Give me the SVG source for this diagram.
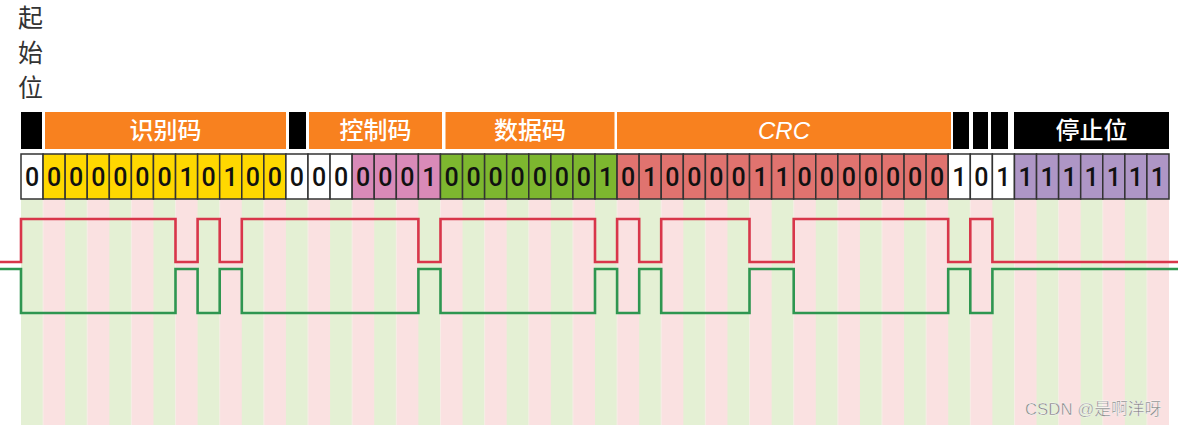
<svg xmlns="http://www.w3.org/2000/svg" width="1178" height="425" viewBox="0 0 1178 425">
<style>
.cjk{font-family:"Noto Sans CJK SC","Noto Sans",sans-serif}
.hdr{font-size:24px;fill:#fff;text-anchor:middle;font-weight:500}
.bit{font-family:Roboto,"Liberation Sans",Arial,sans-serif;font-size:25px;font-weight:500;fill:#111;text-anchor:middle}
.cell{stroke:#333;stroke-width:1.5}
.w{fill:#fff}.y{fill:#FFD800}.p{fill:#D98AB8}.g{fill:#7DB72F}.r{fill:#E0736F}.v{fill:#AE96C6}
.org{fill:#F8811F}.blk{fill:#000}
.wave{fill:none;stroke-width:2.6;stroke-linejoin:miter}
</style>
<defs>
<pattern id="stripes" patternUnits="userSpaceOnUse" x="21" y="0" width="44.1538" height="425">
<rect x="0" y="0" width="22.0769" height="425" fill="#E4F0D4"/>
<rect x="22.0769" y="0" width="22.0769" height="425" fill="#FAE1E1"/>
</pattern>
</defs>
<rect x="0" y="0" width="1178" height="425" fill="#fff"/>
<g id="background">
<rect x="21" y="199" width="1148" height="226" fill="url(#stripes)"/>
</g>
<g id="label-sof" class="cjk" font-size="25" fill="#333">
<text x="18" y="27">起</text>
<text x="18" y="62">始</text>
<text x="18" y="97">位</text>
</g>
<g id="header">
<g id="h-sof"><rect class="blk" x="21" y="112" width="21" height="37"/></g>
<g id="h-id"><rect class="org" x="45" y="112" width="241" height="37"/><text class="cjk hdr" x="165.5" y="139">识别码</text></g>
<g id="h-rtr"><rect class="blk" x="289" y="112" width="17" height="37"/></g>
<g id="h-ctrl"><rect class="org" x="309" y="112" width="133" height="37"/><text class="cjk hdr" x="375.5" y="139">控制码</text></g>
<g id="h-data"><rect class="org" x="445.5" y="112" width="169" height="37"/><text class="cjk hdr" x="530" y="139">数据码</text></g>
<g id="h-crc"><rect class="org" x="617" y="112" width="334" height="37"/><text class="hdr" x="784" y="139" font-family="Liberation Sans,Arial,sans-serif" font-style="italic" font-weight="400">CRC</text></g>
<g id="h-d1"><rect class="blk" x="953" y="112" width="16" height="37"/></g>
<g id="h-d2"><rect class="blk" x="973" y="112" width="15" height="37"/></g>
<g id="h-d3"><rect class="blk" x="991" y="112" width="17" height="37"/></g>
<g id="h-eof"><rect class="blk" x="1014" y="112" width="155" height="37"/><text class="cjk hdr" x="1091.5" y="139">停止位</text></g>
</g>
<g id="bits">
<g class="cell">
<rect class="w" x="21" y="154" width="22.08" height="45"/>
<rect class="y" x="43.08" y="154" width="22.08" height="45"/>
<rect class="y" x="65.15" y="154" width="22.08" height="45"/>
<rect class="y" x="87.23" y="154" width="22.08" height="45"/>
<rect class="y" x="109.31" y="154" width="22.08" height="45"/>
<rect class="y" x="131.38" y="154" width="22.08" height="45"/>
<rect class="y" x="153.46" y="154" width="22.08" height="45"/>
<rect class="y" x="175.54" y="154" width="22.08" height="45"/>
<rect class="y" x="197.62" y="154" width="22.08" height="45"/>
<rect class="y" x="219.69" y="154" width="22.08" height="45"/>
<rect class="y" x="241.77" y="154" width="22.08" height="45"/>
<rect class="y" x="263.85" y="154" width="22.08" height="45"/>
<rect class="w" x="285.92" y="154" width="22.08" height="45"/>
<rect class="w" x="308" y="154" width="22.08" height="45"/>
<rect class="w" x="330.08" y="154" width="22.08" height="45"/>
<rect class="p" x="352.15" y="154" width="22.08" height="45"/>
<rect class="p" x="374.23" y="154" width="22.08" height="45"/>
<rect class="p" x="396.31" y="154" width="22.08" height="45"/>
<rect class="p" x="418.38" y="154" width="22.08" height="45"/>
<rect class="g" x="440.46" y="154" width="22.08" height="45"/>
<rect class="g" x="462.54" y="154" width="22.08" height="45"/>
<rect class="g" x="484.62" y="154" width="22.08" height="45"/>
<rect class="g" x="506.69" y="154" width="22.08" height="45"/>
<rect class="g" x="528.77" y="154" width="22.08" height="45"/>
<rect class="g" x="550.85" y="154" width="22.08" height="45"/>
<rect class="g" x="572.92" y="154" width="22.08" height="45"/>
<rect class="g" x="595" y="154" width="22.08" height="45"/>
<rect class="r" x="617.08" y="154" width="22.08" height="45"/>
<rect class="r" x="639.15" y="154" width="22.08" height="45"/>
<rect class="r" x="661.23" y="154" width="22.08" height="45"/>
<rect class="r" x="683.31" y="154" width="22.08" height="45"/>
<rect class="r" x="705.38" y="154" width="22.08" height="45"/>
<rect class="r" x="727.46" y="154" width="22.08" height="45"/>
<rect class="r" x="749.54" y="154" width="22.08" height="45"/>
<rect class="r" x="771.62" y="154" width="22.08" height="45"/>
<rect class="r" x="793.69" y="154" width="22.08" height="45"/>
<rect class="r" x="815.77" y="154" width="22.08" height="45"/>
<rect class="r" x="837.85" y="154" width="22.08" height="45"/>
<rect class="r" x="859.92" y="154" width="22.08" height="45"/>
<rect class="r" x="882" y="154" width="22.08" height="45"/>
<rect class="r" x="904.08" y="154" width="22.08" height="45"/>
<rect class="r" x="926.15" y="154" width="22.08" height="45"/>
<rect class="w" x="948.23" y="154" width="22.08" height="45"/>
<rect class="w" x="970.31" y="154" width="22.08" height="45"/>
<rect class="w" x="992.38" y="154" width="22.08" height="45"/>
<rect class="v" x="1014.46" y="154" width="22.08" height="45"/>
<rect class="v" x="1036.54" y="154" width="22.08" height="45"/>
<rect class="v" x="1058.62" y="154" width="22.08" height="45"/>
<rect class="v" x="1080.69" y="154" width="22.08" height="45"/>
<rect class="v" x="1102.77" y="154" width="22.08" height="45"/>
<rect class="v" x="1124.85" y="154" width="22.08" height="45"/>
<rect class="v" x="1146.92" y="154" width="22.08" height="45"/>
</g>
<g class="bit">
<text x="32.04" y="186">0</text>
<text x="54.12" y="186">0</text>
<text x="76.19" y="186">0</text>
<text x="98.27" y="186">0</text>
<text x="120.35" y="186">0</text>
<text x="142.42" y="186">0</text>
<text x="164.5" y="186">0</text>
<text x="186.58" y="186">1</text>
<text x="208.65" y="186">0</text>
<text x="230.73" y="186">1</text>
<text x="252.81" y="186">0</text>
<text x="274.88" y="186">0</text>
<text x="296.96" y="186">0</text>
<text x="319.04" y="186">0</text>
<text x="341.12" y="186">0</text>
<text x="363.19" y="186">0</text>
<text x="385.27" y="186">0</text>
<text x="407.35" y="186">0</text>
<text x="429.42" y="186">1</text>
<text x="451.5" y="186">0</text>
<text x="473.58" y="186">0</text>
<text x="495.65" y="186">0</text>
<text x="517.73" y="186">0</text>
<text x="539.81" y="186">0</text>
<text x="561.88" y="186">0</text>
<text x="583.96" y="186">0</text>
<text x="606.04" y="186">1</text>
<text x="628.12" y="186">0</text>
<text x="650.19" y="186">1</text>
<text x="672.27" y="186">0</text>
<text x="694.35" y="186">0</text>
<text x="716.42" y="186">0</text>
<text x="738.5" y="186">0</text>
<text x="760.58" y="186">1</text>
<text x="782.65" y="186">1</text>
<text x="804.73" y="186">0</text>
<text x="826.81" y="186">0</text>
<text x="848.88" y="186">0</text>
<text x="870.96" y="186">0</text>
<text x="893.04" y="186">0</text>
<text x="915.12" y="186">0</text>
<text x="937.19" y="186">0</text>
<text x="959.27" y="186">1</text>
<text x="981.35" y="186">0</text>
<text x="1003.42" y="186">1</text>
<text x="1025.5" y="186">1</text>
<text x="1047.58" y="186">1</text>
<text x="1069.65" y="186">1</text>
<text x="1091.73" y="186">1</text>
<text x="1113.81" y="186">1</text>
<text x="1135.88" y="186">1</text>
<text x="1157.96" y="186">1</text>
</g>
</g>
<g id="connectors">
<path class="wave" stroke="#D8364A" d="M0,262 H21 V219 H175.5 V262 H197.6 V219 H219.7 V262 H241.8 V219 H418.4 V262 H440.5 V219 H595 V262 H617.1 V219 H639.2 V262 H661.2 V219 H749.5 V262 H793.7 V219 H948.2 V262 H970.3 V219 H992.4 V262 H1178"/>
<path class="wave" stroke="#2E9650" d="M0,269 H21 V313 H175.5 V269 H197.6 V313 H219.7 V269 H241.8 V313 H418.4 V269 H440.5 V313 H595 V269 H617.1 V313 H639.2 V269 H661.2 V313 H749.5 V269 H793.7 V313 H948.2 V269 H970.3 V313 H992.4 V269 H1178"/>
</g>
<g id="watermark">
<text x="1025" y="415" font-size="16.8" fill="#808080" stroke="#fff" stroke-width="0.4" font-family="Liberation Sans,Noto Sans CJK SC,sans-serif">CSDN @是啊洋呀</text>
</g>
</svg>
